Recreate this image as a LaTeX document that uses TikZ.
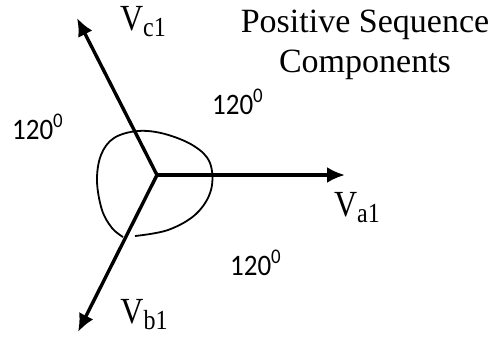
\documentclass[tikz,border=0pt]{standalone}
\usepackage{fontspec}
\setmainfont{Liberation Serif}
\newfontfamily\degfont{Carlito}
\usetikzlibrary{arrows.meta}
\tikzset{
  phasor/.style={-{Latex[length=9pt,width=8pt]},line width=1.7pt},
  vlabel/.style={font=\fontsize{16}{16}\selectfont,inner sep=0pt},
  anglabel/.style={font=\degfont\fontsize{13.5}{13.5}\selectfont,inner sep=0pt},
  titlelabel/.style={font=\fontsize{17}{20}\selectfont,align=center,inner sep=0pt},
  loopline/.style={line width=0.9pt}
}
\newcommand{\phv}[1]{\scalebox{1}[1.15]{V\raisebox{-0.35ex}{\fontsize{12}{12}\selectfont #1}}}
\newcommand{\angtext}{\scalebox{1}[1.1]{120\textsuperscript{0}}}

\begin{document}
\begin{tikzpicture}[x=0.5pt,y=-0.5pt]
  \useasboundingbox (0,0) rectangle (497,339);
  % phasor origin and tips
  \coordinate (O) at (157,175);
  \coordinate (tipa) at (345,175);
  \coordinate (tipb) at (78,332);
  \coordinate (tipc) at (77,18);
  \draw[phasor] (O) -- (tipa);
  \draw[phasor] (O) -- (tipb);
  \draw[phasor] (O) -- (tipc);
  % loop round the origin
  \draw[loopline] plot[smooth,tension=0.6] coordinates {(135,236) (168,230) (196,214) (211,190) (210,163) (194,146) (165,134) (138,131) (114,138) (101,155) (97,181) (102,210) (112,228) (123,237)};
  % labels
  \node[vlabel] (va) at (357,208) {\phv{a1}};
  \node[vlabel] (vb) at (144,315) {\phv{b1}};
  \node[vlabel] (vc) at (143,22) {\phv{c1}};
  \node[anglabel] (ab) at (38,127) {\angtext};
  \node[anglabel] (ac) at (238,102) {\angtext};
  \node[anglabel] (aa) at (256,263) {\angtext};
  \node[titlelabel] (title) at (365,45) {Positive Sequence\\Components};
\end{tikzpicture}
\end{document}
